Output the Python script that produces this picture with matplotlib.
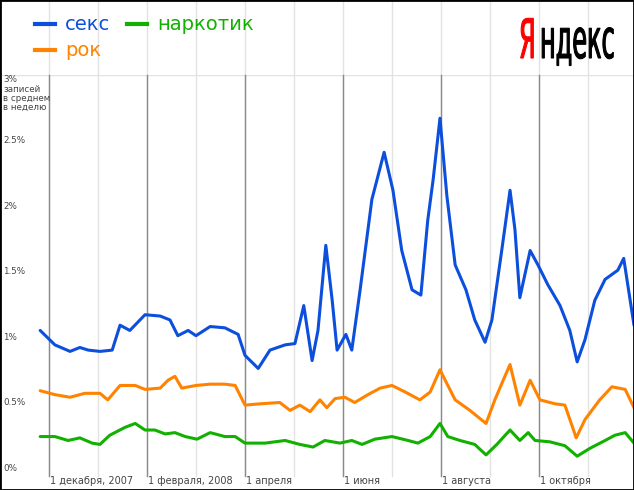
import matplotlib
matplotlib.use('Agg')
import matplotlib.pyplot as plt
from matplotlib.patches import Rectangle, PathPatch
from matplotlib.textpath import TextPath
from matplotlib.font_manager import FontProperties
from matplotlib.transforms import Affine2D

# x = months since 1 Dec 2007, y = % of posts per week
sex_x = [-0.18, 0.12, 0.43, 0.63, 0.80, 1.04, 1.29, 1.45, 1.65, 1.96, 2.27, 2.47, 2.63, 2.84, 3.00, 3.29,
         3.59, 3.86, 4.00, 4.27, 4.51, 4.82, 5.02, 5.20, 5.37, 5.49, 5.65, 5.78, 5.88, 6.06, 6.18, 6.35,
         6.59, 6.84, 7.02, 7.20, 7.41, 7.59, 7.73, 7.84, 7.98, 8.12, 8.29, 8.51, 8.69, 8.90, 9.04, 9.24,
         9.41, 9.51, 9.61, 9.82, 9.98, 10.18, 10.43, 10.63, 10.78, 10.94, 11.14, 11.35, 11.61, 11.73, 11.94]
sex_y = [1.05, 0.94, 0.89, 0.92, 0.90, 0.89, 0.90, 1.09, 1.05, 1.17, 1.16, 1.13, 1.01, 1.05, 1.01, 1.08,
         1.07, 1.02, 0.86, 0.76, 0.90, 0.94, 0.95, 1.24, 0.82, 1.05, 1.70, 1.28, 0.90, 1.02, 0.90, 1.36,
         2.05, 2.41, 2.12, 1.66, 1.36, 1.32, 1.89, 2.20, 2.67, 2.08, 1.55, 1.36, 1.13, 0.96, 1.13, 1.66,
         2.12, 1.82, 1.30, 1.66, 1.55, 1.40, 1.24, 1.05, 0.81, 0.98, 1.28, 1.44, 1.51, 1.60, 1.09]

rock_x = [-0.18, 0.12, 0.43, 0.73, 1.04, 1.20, 1.45, 1.76, 1.96, 2.27, 2.43, 2.57, 2.71, 3.00, 3.29, 3.59,
          3.80, 4.00, 4.31, 4.71, 4.92, 5.12, 5.33, 5.53, 5.67, 5.84, 6.04, 6.24, 6.51, 6.76, 7.00, 7.27,
          7.57, 7.78, 7.98, 8.10, 8.29, 8.59, 8.92, 9.10, 9.27, 9.41, 9.61, 9.82, 10.02, 10.33, 10.53,
          10.76, 10.94, 11.24, 11.49, 11.76, 11.94]
rock_y = [0.59, 0.56, 0.54, 0.57, 0.57, 0.52, 0.63, 0.63, 0.60, 0.61, 0.67, 0.70, 0.61, 0.63, 0.64, 0.64,
          0.63, 0.48, 0.49, 0.50, 0.44, 0.48, 0.43, 0.52, 0.46, 0.53, 0.54, 0.50, 0.56, 0.61, 0.63, 0.58,
          0.52, 0.58, 0.75, 0.66, 0.52, 0.44, 0.34, 0.52, 0.67, 0.79, 0.48, 0.67, 0.52, 0.49, 0.48,
          0.23, 0.37, 0.52, 0.62, 0.60, 0.46]

drug_x = [-0.18, 0.12, 0.39, 0.63, 0.88, 1.04, 1.24, 1.55, 1.76, 1.96, 2.16, 2.37, 2.57, 2.78, 3.02, 3.29,
          3.59, 3.80, 4.00, 4.41, 4.82, 5.12, 5.39, 5.63, 5.94, 6.18, 6.39, 6.65, 7.00, 7.33, 7.53, 7.78,
          7.98, 8.14, 8.39, 8.69, 8.92, 9.14, 9.41, 9.61, 9.78, 9.92, 10.22, 10.53, 10.78, 11.04, 11.35,
          11.55, 11.76, 11.94]
drug_y = [0.24, 0.24, 0.21, 0.23, 0.19, 0.18, 0.25, 0.31, 0.34, 0.29, 0.29, 0.26, 0.27, 0.24, 0.22, 0.27,
          0.24, 0.24, 0.19, 0.19, 0.21, 0.18, 0.16, 0.21, 0.19, 0.21, 0.18, 0.22, 0.24, 0.21, 0.19, 0.24,
          0.34, 0.24, 0.21, 0.18, 0.10, 0.18, 0.29, 0.21, 0.27, 0.21, 0.20, 0.17, 0.09, 0.15, 0.21,
          0.25, 0.27, 0.19]

major_months = [0, 2, 4, 6, 8, 10]
major_labels = ['1 декабря, 2007', '1 февраля, 2008', '1 апреля', '1 июня', '1 августа', '1 октября']
minor_months = [1, 3, 5, 7, 9, 11]
ytick_vals = [3, 2.5, 2, 1.5, 1, 0.5, 0]
ytick_labels = ['3%', '2.5%', '2%', '1.5%', '1%', '0.5%', '0%']

BLUE, ORANGE, GREEN = '#0c4fdc', '#ff8300', '#12b000'

fig = plt.figure(figsize=(6.34, 4.90), dpi=100)
ax = fig.add_axes([0, 22 / 490, 1, 393 / 490])
ax.set_xlim(-1, 11.94)
ax.set_ylim(0, 3)
ax.axis('off')

top = 468 / 393  # figure top in axes fraction
low = -8 / 393
for m in minor_months + major_months:
    ax.axvline(m, ymin=low, ymax=top, color='#e2e2e2', lw=1, clip_on=False, zorder=0)
for m in major_months:
    ax.axvline(m, ymin=low, ymax=1, color='#8a8a8a', lw=1, clip_on=False, zorder=1)
ax.axhline(3, color='#e2e2e2', lw=1, zorder=0)

for v, lab in zip(ytick_vals, ytick_labels):
    ax.text(-0.94, v, lab, fontsize=6.3, color='#444', ha='left',
            va='top' if v == 3 else 'center')
ax.text(-0.94, 2.92, 'записей\nв среднем\nв неделю', fontsize=6.3, color='#444',
        ha='left', va='top', linespacing=0.95)

for m, lab in zip(major_months, major_labels):
    ax.text(m + 0.02, -0.1, lab, fontsize=7, color='#444', ha='left', va='center', clip_on=False)

kw = dict(lw=2.2, solid_joinstyle='round', solid_capstyle='round', zorder=3)
ax.plot(drug_x, drug_y, color=GREEN, **kw)
ax.plot(rock_x, rock_y, color=ORANGE, **kw)
ax.plot(sex_x, sex_y, color=BLUE, **kw)

# legend
for (x0, y0, col, lab) in [(35, 24, BLUE, 'секс'), (127, 24, GREEN, 'наркотик'), (35, 50, ORANGE, 'рок')]:
    fig.add_artist(plt.Line2D([x0 / 634, (x0 + 20) / 634], [1 - y0 / 490] * 2, color=col, lw=3))
    fig.text((x0 + 30) / 634, 1 - y0 / 490, lab, color=col, fontsize=14, va='center', ha='left')

# Yandex logo: condensed text drawn as a path in pixel coordinates
fp = FontProperties(family='DejaVu Sans')
for s, x0, col in [('Я', 519, '#ff0000'), ('ндекс', 540, 'black')]:
    tp = TextPath((0, 0), s, size=32, prop=fp)
    tr = Affine2D().scale(0.75, 1.7).translate(x0, 490 - 58)
    fig.add_artist(PathPatch(tr.transform_path(tp), transform=None, fc=col, ec=col, lw=0.8))

fig.add_artist(Rectangle((0, 0), 1, 1, transform=fig.transFigure, fill=False, ec='black', lw=2))
fig.savefig('out.png', dpi=100)
